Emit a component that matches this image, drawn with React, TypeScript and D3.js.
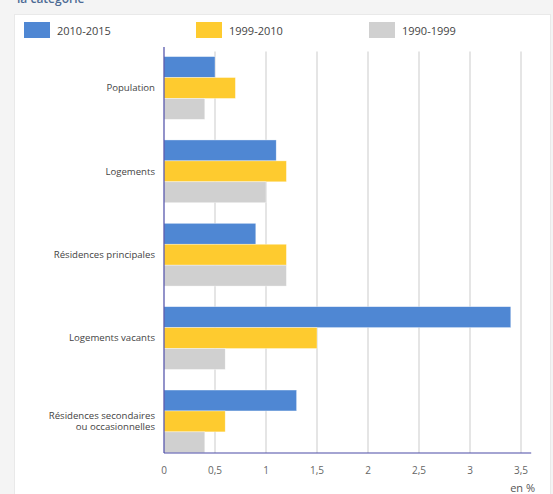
import React from "react";
import * as d3 from "d3";

const categories: string[][] = [
  ["Population"],
  ["Logements"],
  ["Résidences principales"],
  ["Logements vacants"],
  ["Résidences secondaires", "ou occasionnelles"],
];
const seriesNames = ["2010-2015", "1999-2010", "1990-1999"];
const seriesColors = ["#4f87d3", "#fecb2f", "#d0d0d0"];
const values2010_2015 = [0.5, 1.1, 0.9, 3.4, 1.3];
const values1999_2010 = [0.7, 1.2, 1.2, 1.5, 0.6];
const values1990_1999 = [0.4, 1.0, 1.2, 0.6, 0.4];
const xTicks = [0, 0.5, 1, 1.5, 2, 2.5, 3, 3.5];
const xTickLabels = ["0", "0,5", "1", "1,5", "2", "2,5", "3", "3,5"];

export default function App() {
  const W = 553, H = 494;
  const left = 164, right = 531.2;
  const axisTop = 47, axisBottom = 453;
  const font = "'Open Sans', 'Segoe UI', sans-serif";
  const x = d3.scaleLinear().domain([0, 3.6]).range([left, right]);
  const keys = categories.map((c) => c.join(" "));
  const y = d3.scaleBand<string>().domain(keys).range([56.6, 452.8]).paddingInner(0.247).paddingOuter(0);
  const sub = d3.scaleBand<number>().domain([0, 1, 2]).range([0, y.bandwidth()]).padding(0);
  const series = [values2010_2015, values1999_2010, values1990_1999];
  const legendX = [24, 196, 369];

  return (
    <svg width={W} height={H} style={{ position: "absolute", left: 0, top: 0, display: "block" }}>
      <rect x={0} y={0} width={W} height={H} fill="#f4f4f4" />
      <text x={17} y={3} fontFamily={font} fontSize={12} fontWeight={600} fill="#4d6b94">la catégorie</text>
      <rect x={14.5} y={14.5} width={536} height={500} fill="#ffffff" stroke="#e9e9e9" />

      {seriesNames.map((s, i) => (
        <g key={s}>
          <rect x={legendX[i]} y={22} width={26} height={16} fill={seriesColors[i]} />
          <text x={legendX[i] + 33} y={34.5} fontFamily={font} fontSize={11} fill="#444">{s}</text>
        </g>
      ))}

      {xTicks.slice(1).map((t) => (
        <line key={t} x1={x(t)} x2={x(t)} y1={51.5} y2={axisBottom} stroke="#dcdcdc" strokeWidth={1.5} />
      ))}

      {keys.map((k, ci) =>
        series.map((vals, si) => (
          <rect
            key={k + si}
            x={x(0)}
            y={(y(k) as number) + (sub(si) as number)}
            width={x(vals[ci]) - x(0)}
            height={sub.bandwidth()}
            fill={seriesColors[si]}
            stroke="#ffffff"
            strokeOpacity={0.6}
            strokeWidth={0.6}
          />
        ))
      )}

      <line x1={left} x2={left} y1={axisTop} y2={axisBottom} stroke="#4a4aa6" strokeWidth={1.2} />
      <line x1={left} x2={right} y1={axisBottom} y2={axisBottom} stroke="#4a4aa6" strokeWidth={1.2} />

      {xTicks.map((t, i) => (
        <text key={t} x={x(t)} y={474} textAnchor="middle" fontFamily={font} fontSize={10} fill="#666">{xTickLabels[i]}</text>
      ))}
      <text x={535} y={492} textAnchor="end" fontFamily={font} fontSize={11} fill="#555">en %</text>

      {categories.map((lines, ci) => {
        const cy = (y(keys[ci]) as number) + y.bandwidth() / 2;
        const lh = 11.5;
        const start = cy - ((lines.length - 1) * lh) / 2;
        return (
          <g key={keys[ci]}>
            {lines.map((l, li) => (
              <text key={li} x={155} y={start + li * lh + 3.3} textAnchor="end" fontFamily={font} fontSize={9.6} fill="#444">{l}</text>
            ))}
          </g>
        );
      })}
    </svg>
  );
}
